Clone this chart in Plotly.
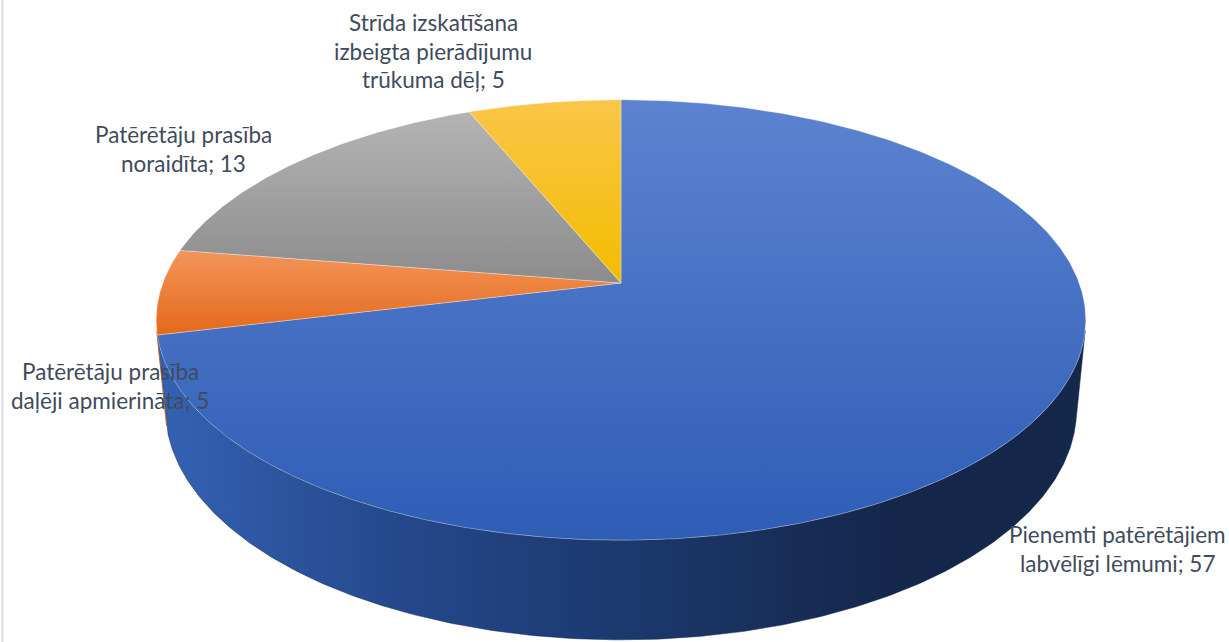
import numpy as np
import plotly.graph_objects as go

# ---- data ----
categories = [
    ["Pienemti patērētājiem", "labvēlīgi lēmumi"],
    ["Patērētāju prasība", "daļēji apmierināta"],
    ["Patērētāju prasība", "noraidīta"],
    ["Strīda izskatīšana", "izbeigta pierādījumu", "trūkuma dēļ"],
]
values = [57, 5, 13, 5]

# ---- styles ----
top_grad = [("#5C83CF", "#2E5DB6"), ("#F3955A", "#E4691A"),
            ("#B4B4B4", "#8C8C8C"), ("#FAC648", "#F3BC00")]
side_scales = [
    [[0, "#3462B4"], [0.26, "#24488B"], [0.53, "#1B376A"], [0.8, "#14264A"], [1, "#14284C"]],
    [[0, "#B85510"], [1, "#B85510"]],
    [[0, "#6E6E6E"], [1, "#6E6E6E"]],
    [[0, "#B08800"], [1, "#B08800"]],
]
label_pos = [(1117, 549), (110, 386), (183, 149), (433, 51)]
LINE_H = 28.5
W, H = 1229, 642

# ---- projection of a tilted 3D pie ----
CX, CY = 621, 283
F = 2410.0
L = 5.26
SIN = 0.467
COS = np.sqrt(1 - SIN**2)
DEPTH = 0.222


def proj(theta_deg, z, r=1.0):
    t = np.radians(theta_deg)
    u = r * np.sin(t)
    v = r * np.cos(t)
    yc = v * SIN + z * COS
    zc = v * COS - z * SIN + L
    return CX + F * u / zc, CY - F * yc / zc


total = float(sum(values))
bounds = np.concatenate([[0], np.cumsum(values) / total * 360.0])
vis_lo = np.degrees(np.arccos(-1.0 / (L * COS)))
vis_hi = 360.0 - vis_lo

fig = go.Figure()

# side walls
for i, v in enumerate(values):
    a, b = bounds[i], bounds[i + 1]
    lo, hi = max(a, vis_lo), min(b, vis_hi)
    if hi <= lo:
        continue
    th = np.linspace(lo, hi, max(int((hi - lo) * 2), 2))
    xt, yt = proj(th, 0.0)
    xb, yb = proj(th[::-1], -DEPTH)
    xs = np.concatenate([xt, xb, xt[:1]])
    ys = np.concatenate([yt, yb, yt[:1]])
    fig.add_trace(go.Scatter(
        x=xs, y=ys, mode="lines", fill="toself",
        line=dict(width=0.5, color=side_scales[i][-1][1]),
        fillgradient=dict(type="horizontal", colorscale=side_scales[i],
                          start=156, stop=1087),
        hoverinfo="skip", showlegend=False))

# top faces
for i, v in enumerate(values):
    a, b = bounds[i], bounds[i + 1]
    th = np.linspace(a, b, max(int((b - a) * 2), 2))
    xa, ya = proj(th, 0.0)
    cx0, cy0 = proj(np.array([0.0]), 0.0, r=0.0)
    xs = np.concatenate([cx0, xa, cx0])
    ys = np.concatenate([cy0, ya, cy0])
    c1, c2 = top_grad[i]
    fig.add_trace(go.Scatter(
        x=xs, y=ys, mode="lines", fill="toself",
        line=dict(width=0.7, color="rgba(255,255,255,0.45)"),
        fillgradient=dict(type="vertical", colorscale=[[0, c1], [1, c2]],
                          start=float(ys.min()), stop=float(ys.max())),
        hoverinfo="skip", showlegend=False))

# labels
for i, v in enumerate(values):
    lines = list(categories[i])
    lines[-1] = f"{lines[-1]}; {v}"
    x0, y0 = label_pos[i]
    n = len(lines)
    for k, t in enumerate(lines):
        fig.add_annotation(x=x0, y=y0 + (k - (n - 1) / 2) * LINE_H, text=t,
                           showarrow=False, xanchor="center", yanchor="middle",
                           font=dict(family="Lato", size=22.5, color="#3F4B5C"))

fig.add_shape(type="line", xref="paper", yref="paper", x0=0.002, x1=0.002,
              y0=0, y1=1, line=dict(color="#D9DEE6", width=2))

fig.update_layout(
    width=W, height=H, margin=dict(l=0, r=0, t=0, b=0),
    paper_bgcolor="white", plot_bgcolor="white",
    xaxis=dict(range=[0, W], visible=False, fixedrange=True),
    yaxis=dict(range=[H, 0], visible=False, fixedrange=True),
)

fig.write_html("out.html",
               config={"displayModeBar": False},
               post_script="document.body.style.margin='0';"
                           "document.body.style.overflow='hidden';")
